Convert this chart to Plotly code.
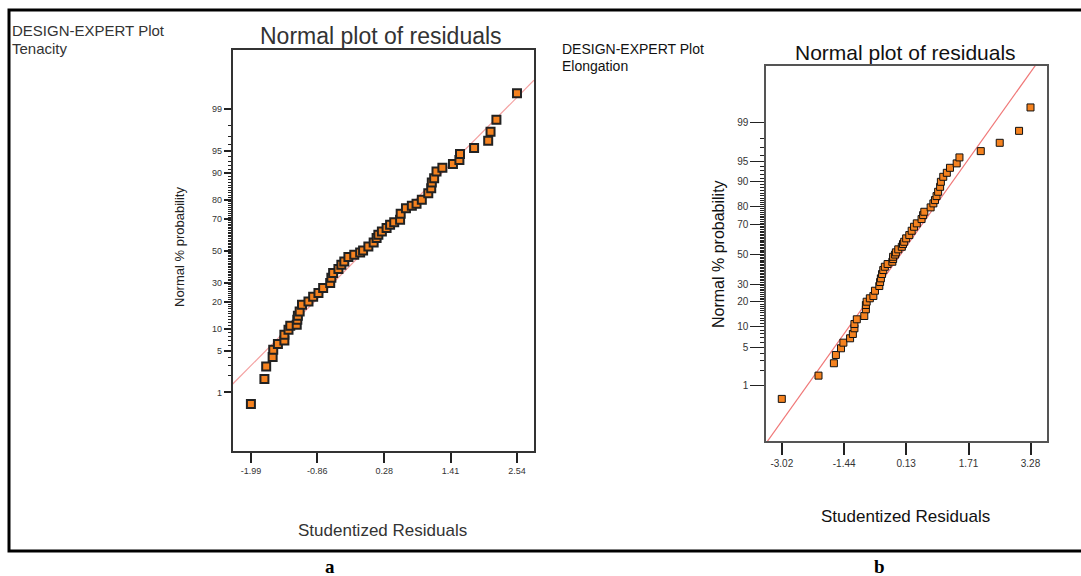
import plotly.graph_objects as go
from statistics import NormalDist

# ---------------- data ----------------
prob_ticks = [1, 5, 10, 20, 30, 50, 70, 80, 90, 95, 99]
tenacity_xticks = [-1.99, -0.86, 0.28, 1.41, 2.54]
elong_xticks = [-3.02, -1.44, 0.13, 1.71, 3.28]

tenacity_resid = [-1.99, -1.76, -1.73, -1.62, -1.61, -1.53, -1.42, -1.42, -1.35, -1.32,
                  -1.21, -1.20, -1.19, -1.16, -1.12, -1.01, -0.93, -0.84, -0.76, -0.64,
                  -0.62, -0.59, -0.50, -0.45, -0.40, -0.33, -0.23, -0.13, -0.08, 0.01,
                  0.10, 0.15, 0.18, 0.24, 0.32, 0.38, 0.45, 0.55, 0.56, 0.65,
                  0.75, 0.83, 0.92, 1.03, 1.08, 1.09, 1.13, 1.17, 1.27, 1.45,
                  1.56, 1.57, 1.81, 2.05, 2.09, 2.19, 2.54]
tenacity_pct = [0.59, 1.76, 2.87, 4.05, 5.20, 6.28, 7.04, 8.39, 9.73, 10.90,
                11.22, 12.86, 14.30, 15.94, 18.76, 20.26, 22.50, 24.36, 27.02, 29.80,
                32.89, 35.71, 38.19, 40.91, 43.03, 45.88, 47.38, 48.89, 50.20, 52.81,
                55.42, 58.26, 60.36, 62.44, 64.54, 66.53, 68.12, 69.46, 72.83, 75.84,
                77.00, 77.99, 79.88, 82.82, 84.84, 86.89, 88.37, 90.36, 91.36, 92.34,
                93.24, 94.44, 95.46, 96.49, 97.49, 98.43, 99.52]

elong_resid = [-3.02, -2.09, -1.70, -1.65, -1.52, -1.46, -1.29, -1.22, -1.18, -1.18,
               -1.12, -0.93, -0.89, -0.89, -0.87, -0.79, -0.70, -0.66, -0.55, -0.53,
               -0.51, -0.48, -0.45, -0.41, -0.34, -0.22, -0.20, -0.20, -0.15, -0.13,
               -0.07, 0.02, 0.05, 0.08, 0.13, 0.21, 0.27, 0.33, 0.40, 0.52,
               0.56, 0.59, 0.75, 0.82, 0.86, 0.90, 0.94, 0.99, 1.01, 1.07,
               1.16, 1.24, 1.41, 1.48, 2.02, 2.50, 2.99, 3.28]
elong_pct = [0.53, 1.60, 2.71, 3.76, 4.84, 5.92, 6.89, 7.96, 9.56, 10.91,
             12.54, 13.78, 16.56, 18.52, 20.12, 21.85, 23.06, 26.01, 28.77, 31.24,
             33.58, 36.39, 39.08, 41.33, 43.20, 44.80, 46.69, 48.31, 49.86, 51.41,
             53.52, 55.34, 57.22, 58.81, 61.13, 63.34, 66.17, 68.72, 70.81, 73.37,
             75.63, 77.42, 79.68, 81.62, 83.13, 84.85, 86.57, 88.38, 90.02, 91.48,
             92.53, 93.70, 94.61, 95.67, 96.60, 97.57, 98.55, 99.53]

tenacity_fit = (0.973, 0.049)   # slope, intercept (z units)
elong_fit = (0.979, 0.008)

# ---------------- helpers ----------------
W, H = 1081, 576
nd = NormalDist()
def q(p):
    return nd.inv_cdf(p / 100.0)
def px(x):
    return x / W
def py(y):
    return 1 - y / H

major_z = [q(p) for p in prob_ticks]
minor_z = [q(p) for p in range(2, 99) if p not in prob_ticks]

a_xr = [-2.30, 2.83]
a_yr = [-3.29, 3.30]
b_xr = [-3.42, 3.69]
b_yr = [-3.30, 3.33]

FONT = "Arial, Liberation Sans, sans-serif"
ORANGE = "#f5821f"

fig = go.Figure()

# Panel a
fig.add_trace(go.Scatter(
    x=a_xr, y=[tenacity_fit[0] * v + tenacity_fit[1] for v in a_xr],
    mode="lines", line=dict(color="#f4a0a0", width=1.2),
    xaxis="x", yaxis="y", hoverinfo="skip"))
fig.add_trace(go.Scatter(
    x=tenacity_resid, y=[q(p) for p in tenacity_pct], mode="markers",
    marker=dict(symbol="square", size=8, color=ORANGE,
                line=dict(color="#222", width=2)),
    xaxis="x", yaxis="y"))

# Panel b
fig.add_trace(go.Scatter(
    x=b_xr, y=[elong_fit[0] * v + elong_fit[1] for v in b_xr],
    mode="lines", line=dict(color="#f07878", width=1.2),
    xaxis="x2", yaxis="y2", hoverinfo="skip"))
fig.add_trace(go.Scatter(
    x=elong_resid, y=[q(p) for p in elong_pct], mode="markers",
    marker=dict(symbol="square", size=7, color=ORANGE,
                line=dict(color="#111", width=1)),
    xaxis="x2", yaxis="y2"))

common_x = dict(showgrid=False, zeroline=False, mirror=True, ticks="outside")
common_y = dict(showgrid=False, zeroline=False, mirror=True, ticks="outside",
                tickmode="array", tickvals=major_z, ticktext=[str(p) for p in prob_ticks])

fig.update_layout(
    width=W, height=H, margin=dict(l=0, r=0, t=0, b=0),
    paper_bgcolor="white", plot_bgcolor="white", showlegend=False,
    font=dict(family=FONT, color="#222"),
    xaxis=dict(domain=[px(232.7), px(534)], range=a_xr, anchor="y",
               tickmode="array", tickvals=tenacity_xticks,
               ticktext=[f"{v:.2f}" for v in tenacity_xticks],
               ticklen=10, tickwidth=2, tickcolor="#222",
               linecolor="#333", linewidth=2,
               tickfont=dict(size=9, color="#333"), **common_x),
    yaxis=dict(domain=[py(451), py(50)], range=a_yr, anchor="x",
               ticklen=7, tickwidth=2, tickcolor="#222",
               linecolor="#333", linewidth=2,
               tickfont=dict(size=9, color="#333"),
               minor=dict(tickmode="array", tickvals=minor_z, ticks="outside",
                          ticklen=3, tickwidth=1, tickcolor="#222", showgrid=False),
               **common_y),
    xaxis2=dict(domain=[px(766), px(1046.7)], range=b_xr, anchor="y2",
                tickmode="array", tickvals=elong_xticks,
                ticktext=[f"{v:.2f}" for v in elong_xticks],
                ticklen=12, tickwidth=1.5, tickcolor="#222",
                linecolor="#555", linewidth=1.5,
                tickfont=dict(size=10, color="#333"), **common_x),
    yaxis2=dict(domain=[py(441), py(66)], range=b_yr, anchor="x2",
                ticklen=14, tickwidth=1, tickcolor="#222",
                linecolor="#555", linewidth=1.5,
                tickfont=dict(size=10, color="#333"),
                minor=dict(tickmode="array", tickvals=minor_z, ticks="outside",
                           ticklen=4, tickwidth=1, tickcolor="#222", showgrid=False),
                **common_y),
)

ann = []
def add_text(text, x, y, size, color="#222", xanchor="center", angle=0, family=FONT):
    ann.append(dict(text=text, x=px(x), y=py(y), xref="paper", yref="paper",
                    xanchor=xanchor, yanchor="middle", showarrow=False,
                    textangle=angle, font=dict(size=size, color=color, family=family)))

# Panel a texts
add_text("DESIGN-EXPERT Plot", 10, 30, 15, "#333", "left")
add_text("Tenacity", 10, 48, 15, "#333", "left")
add_text("Normal plot of residuals", 381, 36, 23, "#333")
add_text("Normal % probability", 179, 247, 13, "#222", angle=-90)
add_text("Studentized Residuals", 382, 530, 17, "#333")
# Panel b texts
add_text("DESIGN-EXPERT Plot", 560, 49, 14, "#111", "left")
add_text("Elongation", 560, 66, 14, "#111", "left")
add_text("Normal plot of residuals", 905, 53, 21, "#111")
add_text("Normal % probability", 718, 254, 16, "#111", angle=-90)
add_text("Studentized Residuals", 905, 516, 17, "#111")
# panel labels
add_text("<b>a</b>", 330, 566, 19, "#000", family="Times New Roman, Liberation Serif, serif")
add_text("<b>b</b>", 879, 566, 19, "#000", family="Times New Roman, Liberation Serif, serif")
fig.update_layout(annotations=ann)

# Outer frame
fig.add_shape(type="rect", xref="paper", yref="paper",
              x0=px(9), x1=px(1085), y0=py(551), y1=py(10),
              line=dict(color="#000", width=3))

fig.write_html("out.html", config={"displayModeBar": False},
               post_script="document.body.style.margin='0px';document.body.style.overflow='hidden';")
